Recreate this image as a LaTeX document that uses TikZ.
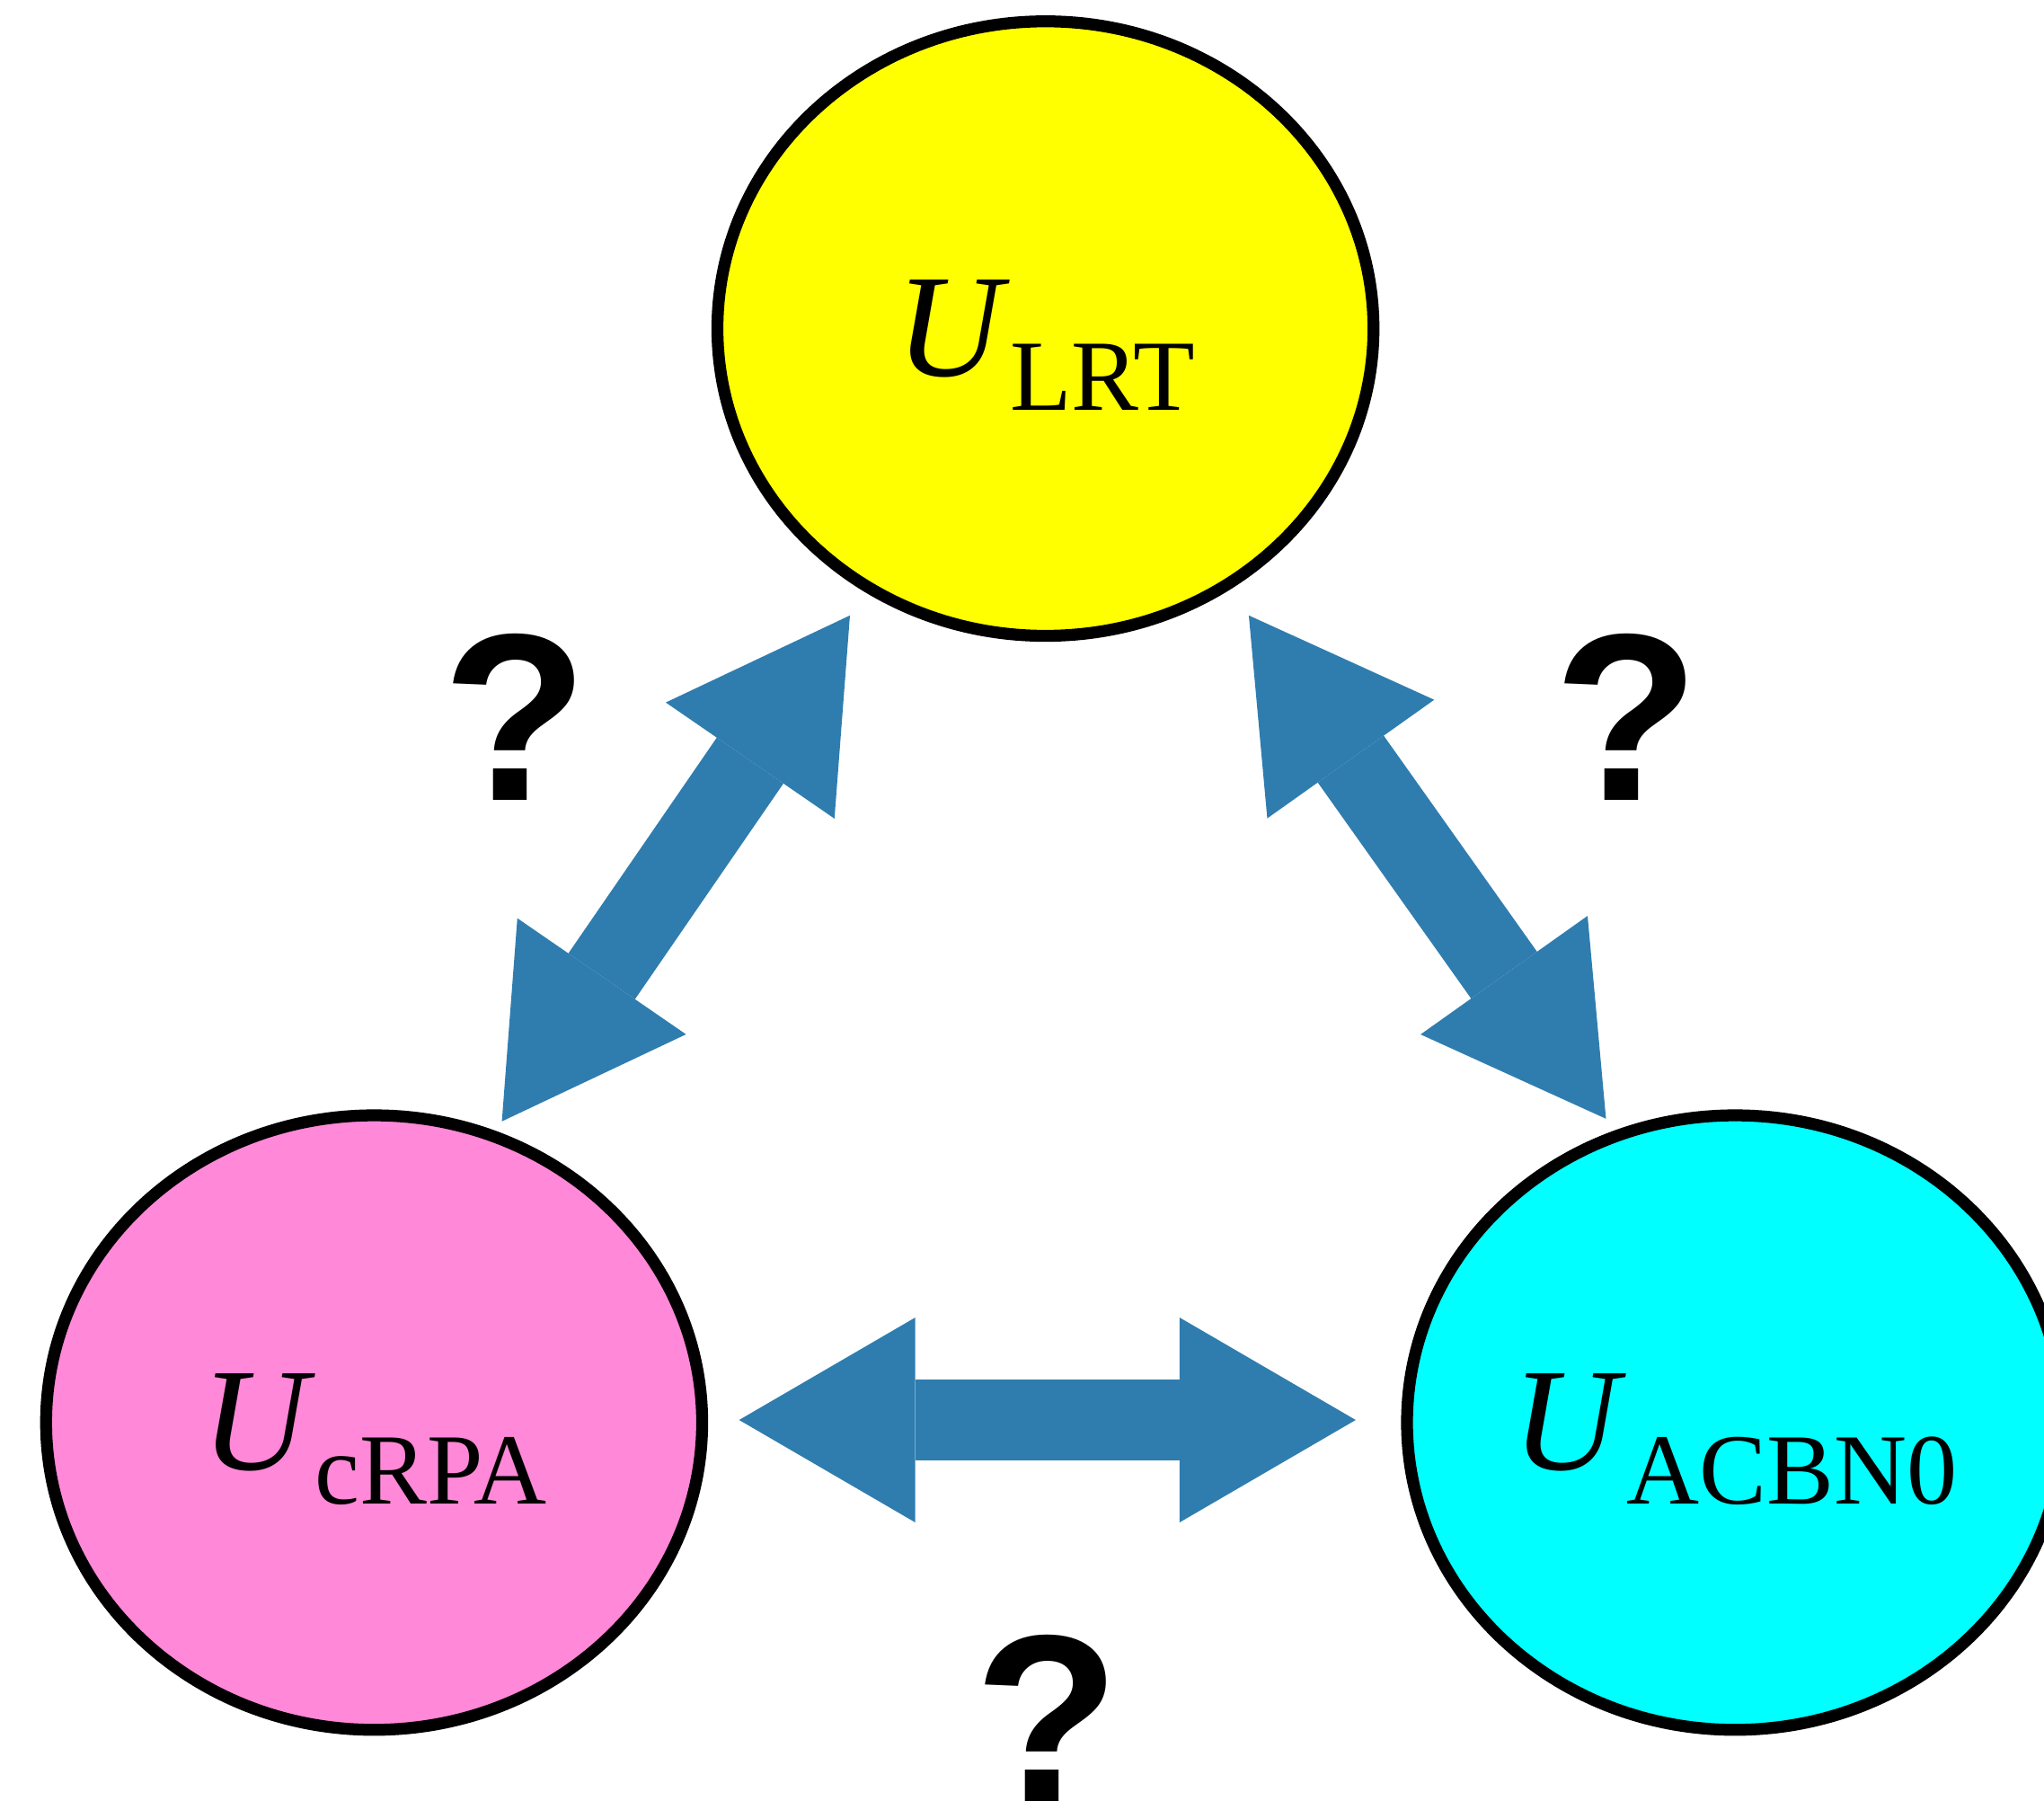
\documentclass[tikz,border=0pt]{standalone}
\usepackage{fontspec}
\setmainfont{Liberation Serif}
\newfontfamily\qfont{Liberation Sans}
\usetikzlibrary{shapes.geometric, arrows.meta, positioning}
\definecolor{lrtYellow}{RGB}{255,255,0}
\definecolor{crpaPink}{RGB}{255,136,216}
\definecolor{acbnCyan}{RGB}{0,255,255}
\definecolor{arrowBlue}{RGB}{47,125,175}
\newcommand{\Ulab}[1]{\textit{U}\raisebox{-7.5pt}[\height][0pt]{\fontsize{22}{24}\selectfont #1}}
\tikzset{
  ov/blob/.style={ellipse, draw=black, line width=2.6pt,
    minimum width=5.03cm, minimum height=4.71cm, inner sep=0pt,
    font=\fontsize{32}{38}\selectfont},
  ov/arr/.style={line width=0.62cm, draw=arrowBlue,
    >={Triangle[length=1.35cm,width=1.57cm,line width=0pt]}, <->},
  ov/q/.style={font=\qfont\bfseries\fontsize{52}{58}\selectfont,
    inner sep=0pt}
}
\begin{document}
\begin{tikzpicture}[x=0.01cm, y=-0.01cm]
  \useasboundingbox (0,0) rectangle (1568,1388);

  \node[ov/blob, fill=lrtYellow] (lrt)  at (802,252)  {\Ulab{LRT}};
  \node[ov/blob, fill=crpaPink]  (crpa) at (287,1091) {\Ulab{cRPA}};
  \node[ov/blob, fill=acbnCyan]  (acbn) at (1331,1091) {\Ulab{ACBN0}};

  % arrow ends, in the gaps between the ovals
  \coordinate (crpaUp)   at (385,860);
  \coordinate (lrtLeft)  at (652,472);
  \coordinate (lrtRight) at (958,472);
  \coordinate (acbnUp)   at (1232,858);
  \coordinate (crpaSide) at (567,1089);
  \coordinate (acbnSide) at (1040,1089);

  \draw[ov/arr] (crpaUp) -- (lrtLeft);
  \draw[ov/arr] (lrtRight) -- (acbnUp);
  \draw[ov/arr] (crpaSide) -- (acbnSide);

  \node[ov/q] (qLeft)   at (395,550)  {?};
  \node[ov/q] (qRight)  at (1248,550) {?};
  \node[ov/q] (qBottom) at (803,1318) {?};
\end{tikzpicture}
\end{document}
